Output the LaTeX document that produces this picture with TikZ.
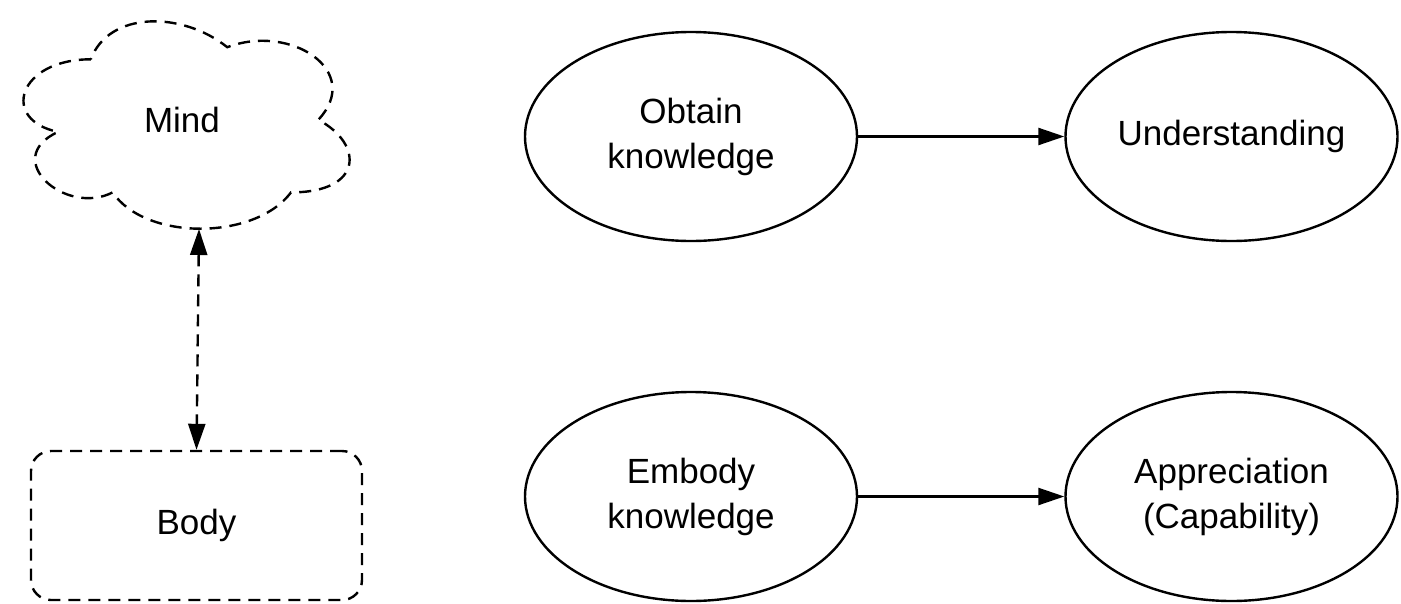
\documentclass[tikz,border=0pt]{standalone}
\usepackage{fontspec}
\setmainfont{Liberation Sans}
\usetikzlibrary{shapes.geometric,arrows.meta}
\begin{document}
\begin{tikzpicture}[x=1pt,y=-1pt,
  lw/.style={line width=2.4pt},
  txt/.style={font=\fontsize{35}{45}\selectfont, align=center},
  dsh/.style={dash pattern=on 12pt off 8pt},
  oval/.style={ellipse, draw, lw, txt, minimum width=332pt, minimum height=209pt, inner sep=0pt},
  dashbox/.style={draw, lw, dsh, txt, rounded corners=20pt, minimum width=331pt, minimum height=149pt, inner sep=0pt},
  tip/.tip={Triangle[length=26pt,width=17pt]},
  conn/.style={lw, -tip},
]
\useasboundingbox (0,0) rectangle (1401,603);

\node[oval] (obtain) at (691,136.5) {Obtain\\knowledge};
\node[oval] (underst) at (1231.5,136.5) {Understanding};
\node[oval] (embody) at (691,496.5) {Embody\\knowledge};
\node[oval] (apprec) at (1231.5,496.5) {Appreciation\\(Capability)};

\node[txt, inner sep=0pt, minimum width=364pt, minimum height=242pt] (mind) at (182,120) {Mind};
\begin{scope}[shift={(mind.north west)}, x=364pt, y=-242pt]
\draw[lw, dsh] (0.25,0.25) .. controls (0.05,0.25) and (0,0.5) .. (0.16,0.55)
  .. controls (0,0.66) and (0.18,0.9) .. (0.31,0.8)
  .. controls (0.4,1) and (0.7,1) .. (0.8,0.8)
  .. controls (1,0.8) and (1,0.6) .. (0.875,0.5)
  .. controls (1,0.3) and (0.8,0.1) .. (0.625,0.2)
  .. controls (0.5,0.05) and (0.3,0.05) .. cycle;
\end{scope}

\node[dashbox] (body) at (196.5,525.5) {Body};
\coordinate (mindb) at (199,229);

\draw[conn] (obtain) -- (underst);
\draw[conn] (embody) -- (apprec);
\draw[lw, dsh, tip-tip] (mindb) -- (body.north);
\end{tikzpicture}
\end{document}
